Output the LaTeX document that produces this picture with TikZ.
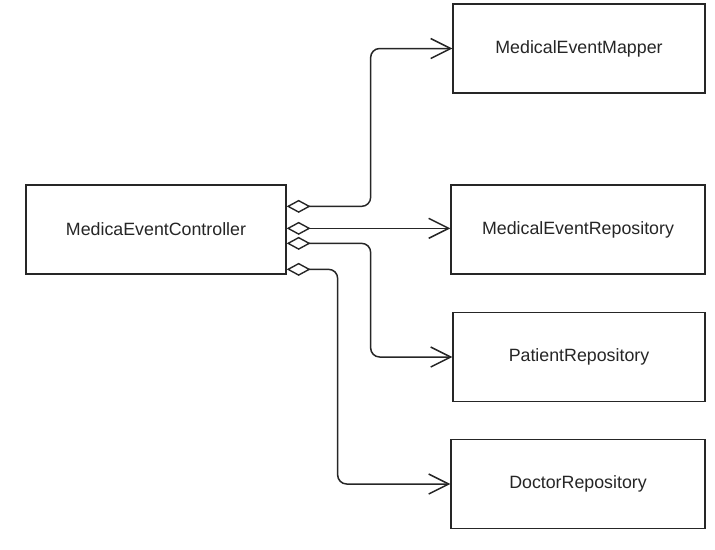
\documentclass[tikz,border=0pt]{standalone}
\usepackage{fontspec}
\setmainfont{Liberation Sans}
\usetikzlibrary{arrows.meta,calc}
\newcommand\lowtxt[1]{\raisebox{-2pt}{#1}}
\begin{document}
\begin{tikzpicture}[x=1pt,y=-1pt,
  box/.style={draw=black!85,line width=1.3pt,fill=white,inner sep=0pt,
    minimum width=#1,minimum height=89pt,font=\fontsize{17.8}{21}\selectfont,text=black!85},
  box/.default=254pt,
  agg/.style={draw=black!85,line width=1.5pt,rounded corners=9pt,
    {Diamond[open,length=24pt,width=13pt,line width=1.4pt]}-{Straight Barb[length=20pt,width=20pt,line width=1.5pt]}}]
\useasboundingbox (0,0) rectangle (715,549);
\node[box=260pt] (ctrl) at (156,229.5) {\lowtxt{MedicaEventController}};
\node[box=252pt] (map) at (579,48.5) {\lowtxt{MedicalEventMapper}};
\node[box] (mer) at (578,229.5) {\lowtxt{MedicalEventRepository}};
\node[box=252pt] (pat) at (579,357) {\lowtxt{PatientRepository}};
\node[box] (doc) at (578,484) {\lowtxt{DoctorRepository}};
\coordinate (p1) at ($(ctrl.north east)+(0,22)$);
\coordinate (p2) at ($(ctrl.north east)+(0,44)$);
\coordinate (p3) at ($(ctrl.north east)+(0,59)$);
\coordinate (p4) at ($(ctrl.north east)+(0,85)$);
\draw[agg] (p1) -- ++(84,0) |- (map.west);
\draw[agg] (p2) -- (p2 -| mer.west);
\draw[agg] (p3) -- ++(84,0) |- (pat.west);
\draw[agg] (p4) -- ++(51,0) |- (doc.west);
\end{tikzpicture}
\end{document}
